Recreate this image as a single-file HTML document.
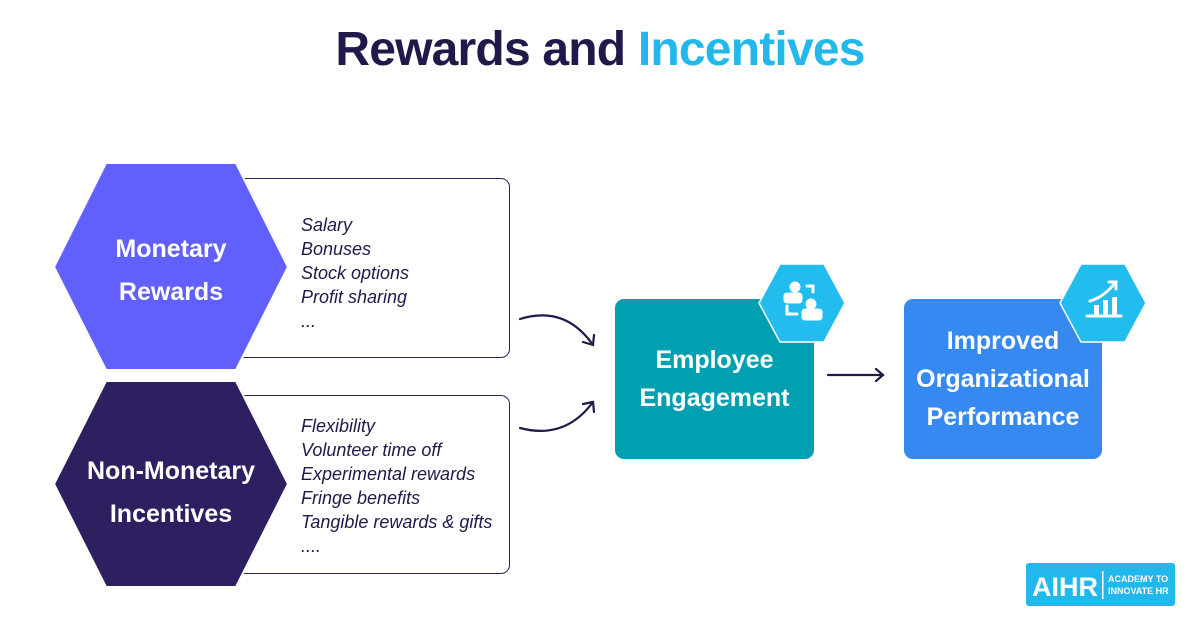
<!DOCTYPE html>
<html><head><meta charset="utf-8"><style>
body{margin:0;width:1200px;height:627px;background:#fff;position:relative;overflow:hidden;font-family:"Liberation Sans",sans-serif}
.t{position:absolute;left:0;width:1200px;top:22px;text-align:center;font-size:48px;font-weight:bold;color:#1f1a4a;letter-spacing:-0.8px}
.box{position:absolute;border:1.3px solid #2a2555;border-radius:9px;background:#fff}
.list{position:absolute;left:301px;font-style:italic;font-size:18px;line-height:24px;color:#1f1a4a}
.lab{position:absolute;color:#fff;font-weight:bold;text-align:center;font-size:25px;line-height:43px}
.card{position:absolute;border-radius:9px;color:#fff;font-weight:bold;font-size:25px;line-height:38px;display:flex;align-items:center;justify-content:center;text-align:center}
</style></head><body>
<div class="t">Rewards and <span style="color:#22b8ec">Incentives</span></div>
<div class="box" style="left:228px;top:178px;width:280px;height:178px"></div>
<div class="box" style="left:228px;top:395px;width:280px;height:177px"></div>
<svg style="position:absolute;left:0;top:0" width="1200" height="627">
<polygon points="54,267 106,163 236,163 288,267 236,370 106,370" fill="#6160fd" stroke="#fff" stroke-width="2" stroke-linejoin="round"/>
<polygon points="54,484 106,381 236,381 288,484 236,587 106,587" fill="#2e2060" stroke="#fff" stroke-width="2" stroke-linejoin="round"/>
<rect x="615" y="299" width="199" height="160" rx="9" fill="#00a0b0"/>
<rect x="904" y="299" width="198" height="160" rx="9" fill="#3589f0"/>
<polygon points="759,303 780,264 824,264 845,303 824,342 780,342" fill="#22bcef" stroke="#fff" stroke-width="1.5" stroke-linejoin="round"/>
<polygon points="1060,303 1081,264 1125,264 1146,303 1125,342 1081,342" fill="#22bcef" stroke="#fff" stroke-width="1.5" stroke-linejoin="round"/>
<g fill="none" stroke="#fff" stroke-width="3" stroke-linecap="round">
<circle cx="795" cy="287" r="4" fill="#fff"/><rect x="785" y="294" width="16" height="8" rx="2" fill="#fff"/>
<circle cx="811" cy="304" r="4" fill="#fff"/><rect x="803" y="310" width="18" height="9" rx="2" fill="#fff"/>
<path d="M807,286 h6 v6"/><path d="M787,306 v8 h10"/>
<path d="M1090,301 q14,-4 25,-18"/><path d="M1109,282 h7 v7"/>
<path d="M1087,316 h34"/>
</g>
<g fill="#fff"><rect x="1094" y="305" width="5" height="11"/><rect x="1103" y="300" width="5" height="16"/><rect x="1112" y="297" width="5" height="19"/></g>
<g fill="none" stroke="#1f1a4a" stroke-width="2.2" stroke-linecap="round">
<path d="M520,319 Q565,305 593,345"/><path d="M583,342 L593,345 L594,335"/>
<path d="M520,428 Q565,440 593,402"/><path d="M583,404 L593,402 L594,412"/>
<path d="M828,375 H883"/><path d="M876,369 L883,375 L876,381"/>
</g>
<rect x="1026" y="563" width="149" height="43" rx="3" fill="#22b8ec"/>
<text x="1032" y="596" fill="#fff" font-size="27" font-weight="bold" font-family="Liberation Sans">AIHR</text>
<rect x="1102" y="571" width="1.5" height="28" fill="#fff"/>
<text x="1108" y="582" fill="#fff" font-size="9" font-weight="bold" font-family="Liberation Sans">ACADEMY TO</text>
<text x="1108" y="594" fill="#fff" font-size="9" font-weight="bold" font-family="Liberation Sans">INNOVATE HR</text>
</svg>
<div class="lab" style="left:54px;width:234px;top:228px">Monetary<br>Rewards</div>
<div class="lab" style="left:54px;width:234px;top:450px">Non-Monetary<br>Incentives</div>
<div class="list" style="top:213px">Salary<br>Bonuses<br>Stock options<br>Profit sharing<br>...</div>
<div class="list" style="top:414px">Flexibility<br>Volunteer time off<br>Experimental rewards<br>Fringe benefits<br>Tangible rewards &amp; gifts<br>....</div>
<div class="card" style="left:615px;top:340px;width:199px;height:78px">Employee<br>Engagement</div>
<div class="card" style="left:904px;top:323px;width:198px;height:112px">Improved<br>Organizational<br>Performance</div>
</body></html>
